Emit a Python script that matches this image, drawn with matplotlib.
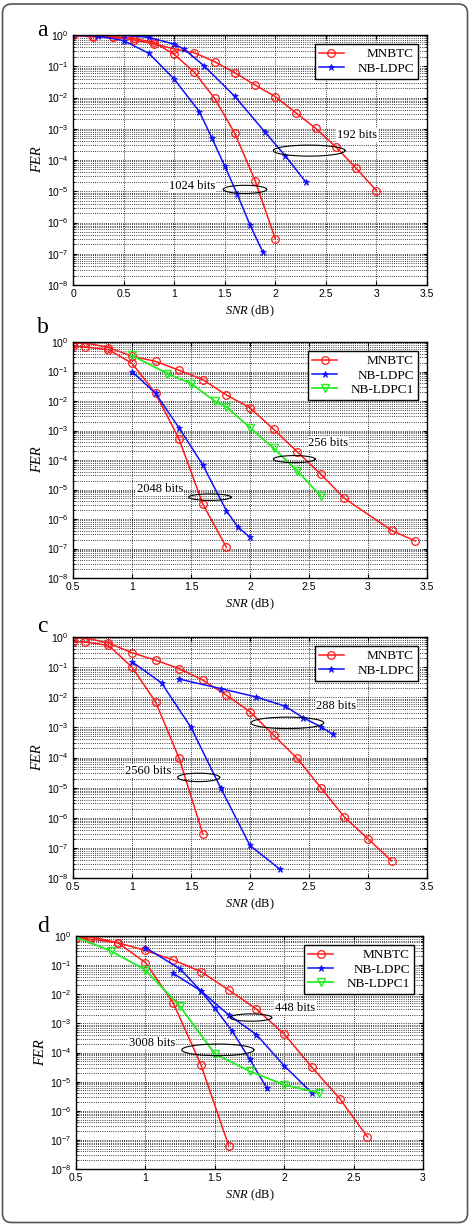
import numpy as np
import matplotlib
matplotlib.use('Agg')
import matplotlib.pyplot as plt
from matplotlib.ticker import (LogLocator, LogFormatterSciNotation, FixedLocator,
                               FuncFormatter, NullFormatter)
from matplotlib.patches import FancyBboxPatch
from matplotlib.transforms import IdentityTransform

plt.rcParams['font.family'] = ['Liberation Sans', 'DejaVu Sans']
plt.rcParams['mathtext.fontset'] = 'custom'
plt.rcParams['mathtext.rm'] = 'Liberation Sans'
plt.rcParams['mathtext.it'] = 'Liberation Serif:italic'
plt.rcParams['mathtext.default'] = 'regular'

SERIF = ['Liberation Serif', 'DejaVu Serif']

# ---------------- data (SNR in dB, FER) ----------------
# panel a
a_x_mn1024 = [0, 0.2, 0.4, 0.6, 0.8, 1.0, 1.2, 1.4, 1.6, 1.8, 2.0]
a_y_mn1024 = [0.98, 0.92, 0.88, 0.78, 0.58, 0.24, 0.064, 9.4e-3, 7.1e-4, 2.2e-5, 3.0e-7]
a_x_mn192 = [0, 0.2, 0.4, 0.6, 0.8, 1.0, 1.2, 1.4, 1.6, 1.8, 2.0, 2.2, 2.4, 2.6, 2.8, 3.0]
a_y_mn192 = [0.98, 0.86, 0.84, 0.70, 0.52, 0.36, 0.27, 0.14, 0.062, 0.025, 0.0107,
             3.3e-3, 1.03e-3, 2.6e-4, 5.4e-5, 1.05e-5]
a_x_nb1024 = [0, 0.25, 0.5, 0.75, 1.0, 1.25, 1.375, 1.5, 1.625, 1.75, 1.875]
a_y_nb1024 = [0.98, 0.93, 0.66, 0.26, 0.039, 3.5e-3, 4.9e-4, 6.4e-5, 7.9e-6, 8.3e-7, 1.17e-7]
a_x_nb192 = [0, 0.25, 0.5, 0.75, 1.0, 1.1, 1.3, 1.6, 1.9, 2.1, 2.3]
a_y_nb192 = [0.98, 0.98, 0.98, 0.84, 0.51, 0.35, 0.10, 0.0108, 7.7e-4, 1.35e-4, 2.0e-5]

# panel b
b_x_mn2048 = [0.5, 0.6, 0.8, 1.0, 1.2, 1.4, 1.6, 1.8]
b_y_mn2048 = [0.72, 0.68, 0.55, 0.19, 0.018, 5e-4, 3.2e-6, 1.1e-7]
b_x_mn256 = [0.5, 0.6, 0.8, 1.0, 1.2, 1.4, 1.6, 1.8, 2.0, 2.2, 2.4, 2.6, 2.8, 3.2, 3.4]
b_y_mn256 = [0.88, 0.95, 0.65, 0.33, 0.22, 0.11, 0.053, 0.016, 5.9e-3, 1.1e-3, 1.9e-4,
             3.3e-5, 5e-6, 4.1e-7, 1.8e-7]
b_x_nb2048 = [1.0, 1.2, 1.4, 1.6, 1.8, 1.9, 2.0]
b_y_nb2048 = [0.1, 0.018, 1.2e-3, 6.8e-5, 1.9e-6, 5.2e-7, 2.4e-7]
b_x_nb1_256 = [1.0, 1.3, 1.5, 1.7, 1.8, 2.0, 2.2, 2.4, 2.6]
b_y_nb1_256 = [0.35, 0.085, 0.039, 0.01, 6.3e-3, 1.25e-3, 2.5e-4, 4.3e-5, 6e-6]

# panel c
c_x_mn2560 = [0.5, 0.6, 0.8, 1.0, 1.2, 1.4, 1.6]
c_y_mn2560 = [0.70, 0.68, 0.53, 0.10, 7e-3, 9.3e-5, 2.9e-7]
c_x_mn288 = [0.5, 0.6, 0.8, 1.0, 1.2, 1.4, 1.6, 1.8, 2.0, 2.2, 2.4, 2.6, 2.8, 3.0, 3.2]
c_y_mn288 = [0.90, 0.95, 0.63, 0.30, 0.17, 0.089, 0.037, 0.0117, 3.3e-3, 5.5e-4, 9.3e-5,
             1e-5, 1.05e-6, 2e-7, 3.7e-8]
c_x_nb2560 = [1.0, 1.25, 1.5, 1.75, 2.0, 2.25]
c_y_nb2560 = [0.15, 0.030, 1e-3, 1e-5, 1.2e-7, 2e-8]
c_x_nb288 = [1.4, 1.75, 2.05, 2.3, 2.45, 2.6, 2.7]
c_y_nb288 = [0.04, 0.0195, 0.0103, 5e-3, 2.1e-3, 1.05e-3, 5.9e-4]

# panel d
d_x_mn3008 = [0.5, 0.6, 0.8, 1.0, 1.2, 1.4, 1.6]
d_y_mn3008 = [0.88, 0.95, 0.59, 0.123, 5.1e-3, 3.8e-5, 6.3e-8]
d_x_mn448 = [0.5, 0.6, 0.8, 1.0, 1.2, 1.4, 1.6, 1.8, 2.0, 2.2, 2.4, 2.6]
d_y_mn448 = [0.85, 0.78, 0.59, 0.32, 0.15, 0.06, 0.014, 3.1e-3, 4.3e-4, 3.1e-5, 2.6e-6, 1.26e-7]
d_x_nb448 = [1.0, 1.25, 1.4, 1.6, 1.8, 2.0, 2.2]
d_y_nb448 = [0.40, 0.074, 0.013, 1.95e-3, 4.1e-4, 3.5e-5, 4.1e-6]
d_x_nb3008 = [1.2, 1.4, 1.5, 1.625, 1.75, 1.875]
d_y_nb3008 = [0.052, 0.013, 3.3e-3, 5.5e-4, 6e-5, 6e-6]
d_x_nb1 = [0.5, 0.75, 1.0, 1.25, 1.5, 1.75, 2.0, 2.25]
d_y_nb1 = [0.9, 0.31, 0.068, 3.8e-3, 9e-5, 2.3e-5, 7.8e-6, 4.1e-6]

legend_labels = ['MNBTC', 'NB-LDPC', 'NB-LDPC1']
panel_letters = ['a', 'b', 'c', 'd']

# annotations: (label, text_x, text_log10y, ell_cx, ell_log10cy, half_w, half_h_decades)
annot_a = [('192 bits', 2.81, -3.2, 2.335, -3.70, 0.355, 0.176),
           ('1024 bits', 1.18, -4.83, 1.70, -4.94, 0.215, 0.13)]
annot_b = [('256 bits', 2.665, -3.44, 2.375, -3.97, 0.177, 0.12),
           ('2048 bits', 1.236, -4.98, 1.66, -5.26, 0.18, 0.11)]
annot_c = [('288 bits', 2.73, -2.30, 2.316, -2.85, 0.308, 0.19),
           ('2560 bits', 1.133, -4.45, 1.565, -4.66, 0.178, 0.14)]
annot_d = [('448 bits', 2.08, -2.48, 1.76, -2.8, 0.15, 0.126),
           ('3008 bits', 1.047, -3.66, 1.522, -3.91, 0.26, 0.2)]

# ---------------- figure ----------------
W, H = 473, 1224
fig = plt.figure(figsize=(W / 100, H / 100), dpi=100)

# outer rounded frame
fig.patches.append(FancyBboxPatch((2.5, 1.5), 465, 1218.5,
                                  boxstyle='round,pad=0,rounding_size=9',
                                  transform=IdentityTransform(), fill=False,
                                  ec='#555555', lw=1.2))


def px_axes(l, t, r, b):
    return fig.add_axes([l / W, 1 - b / H, (r - l) / W, (b - t) / H])


RED = dict(color='#ff1a1a', marker='o', mfc='none', ms=5.5, mew=0.9, lw=1.1)
BLUE = dict(color='#1010ff', marker='*', mfc='#1010ff', ms=5, mew=0.6, lw=1.1)
GREEN = dict(color='#22ee22', marker='v', mfc='none', ms=5.5, mew=1.0, lw=1.3)


def setup(ax, xlim, xticks):
    ax.set_yscale('log')
    ax.set_xlim(*xlim)
    ax.set_ylim(1e-8, 1)
    ax.set_xticks(xticks)
    ax.xaxis.set_major_formatter(FuncFormatter(lambda v, p: f'{v:g}'))
    ax.yaxis.set_major_locator(FixedLocator(10.0 ** np.arange(-8, 1)))
    ax.yaxis.set_major_formatter(LogFormatterSciNotation())
    ax.yaxis.set_minor_locator(LogLocator(base=10, subs=np.arange(2, 10), numticks=100))
    ax.yaxis.set_minor_formatter(NullFormatter())
    gl = dict(color='k', ls=(0, (1, 1.6)), lw=0.6)
    ax.grid(True, which='major', axis='both', **gl)
    ax.grid(True, which='minor', axis='y', **gl)
    ax.tick_params(direction='in', top=True, right=True, labelsize=7.5, length=3, pad=3)
    ax.tick_params(which='minor', direction='in', right=True, length=1.5)
    for s in ax.spines.values():
        s.set_linewidth(1.0)
    ax.set_xlabel(r'$\mathit{SNR}$ (dB)', family=SERIF, fontsize=9, labelpad=3)
    ax.set_ylabel('FER', family=SERIF, fontstyle='italic', fontsize=10.5, labelpad=2)


def annotate(ax, annots):
    t = np.linspace(0, 2 * np.pi, 200)
    for lab, tx, ty, cx, cy, a, b in annots:
        ax.plot(cx + a * np.cos(t), 10 ** (cy + b * np.sin(t)), color='k', lw=0.8, zorder=4)
        ax.text(tx, 10 ** ty, lab, ha='center', va='center', family=SERIF, fontsize=9,
                zorder=5, bbox=dict(fc='white', ec='none', pad=0.6))


def legend(ax):
    leg = ax.legend(loc='upper right', prop=dict(family=SERIF, size=9.5), fancybox=False,
                    edgecolor='k', framealpha=1, handlelength=1.9, borderpad=0.3,
                    labelspacing=0.15, handletextpad=1.0, borderaxespad=0.7, numpoints=1)
    leg.get_frame().set_linewidth(1.0)
    return leg


panels = []

# ---- panel a ----
ax = px_axes(73, 35, 427, 285)
setup(ax, (0, 3.5), np.arange(0, 3.51, 0.5))
ax.plot(a_x_mn1024, a_y_mn1024, label=legend_labels[0], **RED)
ax.plot(a_x_mn192, a_y_mn192, **RED)
ax.plot(a_x_nb1024, a_y_nb1024, label=legend_labels[1], **BLUE)
ax.plot(a_x_nb192, a_y_nb192, **BLUE)
annotate(ax, annot_a)
panels.append((ax, legend(ax)))

# ---- panel b ----
ax = px_axes(73, 342, 427, 578)
setup(ax, (0.5, 3.5), np.arange(0.5, 3.51, 0.5))
ax.plot(b_x_mn2048, b_y_mn2048, label=legend_labels[0], **RED)
ax.plot(b_x_mn256, b_y_mn256, **RED)
ax.plot(b_x_nb2048, b_y_nb2048, label=legend_labels[1], **BLUE)
ax.plot(b_x_nb1_256, b_y_nb1_256, label=legend_labels[2], **GREEN)
annotate(ax, annot_b)
panels.append((ax, legend(ax)))

# ---- panel c ----
ax = px_axes(73, 637, 427, 878)
setup(ax, (0.5, 3.5), np.arange(0.5, 3.51, 0.5))
ax.plot(c_x_mn2560, c_y_mn2560, label=legend_labels[0], **RED)
ax.plot(c_x_mn288, c_y_mn288, **RED)
ax.plot(c_x_nb2560, c_y_nb2560, label=legend_labels[1], **BLUE)
ax.plot(c_x_nb288, c_y_nb288, **BLUE)
annotate(ax, annot_c)
panels.append((ax, legend(ax)))

# ---- panel d ----
ax = px_axes(76, 936, 423, 1169)
setup(ax, (0.5, 3.0), np.arange(0.5, 3.01, 0.5))
ax.plot(d_x_mn3008, d_y_mn3008, label=legend_labels[0], **RED)
ax.plot(d_x_mn448, d_y_mn448, **RED)
ax.plot(d_x_nb448, d_y_nb448, label=legend_labels[1], **BLUE)
ax.plot(d_x_nb3008, d_y_nb3008, **BLUE)
ax.plot(d_x_nb1, d_y_nb1, label=legend_labels[2], **GREEN)
annotate(ax, annot_d)
panels.append((ax, legend(ax)))

# panel letters
for letter, base in zip(panel_letters, [36, 333, 632, 932]):
    fig.text(37 / W, 1 - base / H, letter, family=SERIF, fontsize=17, va='baseline', ha='left')

# right-align legend texts (MATLAB style): shift narrower labels to the right
fig.canvas.draw()
r = fig.canvas.get_renderer()
for ax, leg in panels:
    texts = leg.get_texts()
    widths = [t.get_window_extent(r).width for t in texts]
    w = max(widths)
    for t, wi in zip(texts, widths):
        t.set_position((w - wi, 0))

fig.savefig('out.png', dpi=100)
